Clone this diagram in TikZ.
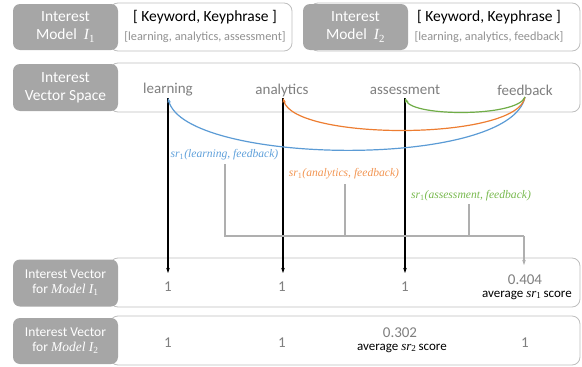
\documentclass[tikz,border=0pt]{standalone}
\usepackage{fontspec}
\setmainfont{Carlito}
\newfontfamily\camfont{Liberation Serif}
\newcommand{\mv}[1]{{\camfont\itshape #1}}
\newcommand{\ms}[1]{\textsubscript{\camfont #1}}
\usetikzlibrary{arrows.meta}
\definecolor{boxgray}{HTML}{A6A6A6}
\definecolor{txtgray}{HTML}{7F7F7F}
\definecolor{edgegray}{HTML}{BFBFBF}
\definecolor{cblue}{HTML}{5B9BD5}
\definecolor{corange}{HTML}{ED7D31}
\definecolor{cgreen}{HTML}{70AD47}
\definecolor{lblue}{HTML}{5FA0DA}
\definecolor{lorange}{HTML}{F29552}
\definecolor{lgreen}{HTML}{78B94E}
\begin{document}
\begin{tikzpicture}[x=1pt,y=-1pt,
  panel/.style={draw=edgegray, line width=0.8pt, fill=white, rounded corners=8pt, inner sep=0},
  tag/.style={fill=boxgray, rounded corners=7pt, inner sep=0, text=white, align=center},
  bigtag/.style={tag, font=\fontsize{15.5}{18}\selectfont},
  smalltag/.style={tag, font=\fontsize{13.5}{15}\selectfont},
  word/.style={text=txtgray, font=\fontsize{15}{16}\selectfont, inner sep=0},
  val/.style={text=txtgray, font=\fontsize{15}{16}\selectfont, inner sep=0},
  avg/.style={text=black, font=\fontsize{13}{14}\selectfont, inner sep=0},
  head/.style={text=black, font=\fontsize{15.5}{16}\selectfont, inner sep=0},
  sub/.style={text=txtgray!85, font=\fontsize{12.3}{13}\selectfont, inner sep=0},
  srlbl/.style={font=\fontsize{11.6}{12}\selectfont, inner sep=0},
  tip/.style={-{Stealth[length=5pt,width=3.5pt]}},
  vline/.style={tip, draw=black, line width=1.3pt},
  curve/.style={tip, line width=1.2pt},
  brk/.style={draw=boxgray!90, line width=1.2pt}
]
\useasboundingbox (0,0) rectangle (582,367);

% ---- row 1
\node[panel, minimum width=182, minimum height=48] (p1) at (201,27) {};
\node[bigtag, minimum width=105, minimum height=46] (t1) at (65.5,27) {Interest\\Model \ \mv{I}\ms{1}};
\node[head] (h1) at (205,17) {[ Keyword, Keyphrase ]};
\node[sub] (s1) at (205,37) {[learning, analytics, assessment]};

\node[panel, minimum width=270, minimum height=48] (p2) at (445,27) {};
\node[bigtag, minimum width=105, minimum height=46] (t2) at (355.5,27) {Interest\\Model \ \mv{I}\ms{2}};
\node[head] (h2) at (489,17) {[ Keyword, Keyphrase ]};
\node[sub] (s2) at (489,37) {[learning, analytics, feedback]};

% ---- row 2
\node[panel, minimum width=470, minimum height=49] (p3) at (345,87.5) {};
\node[bigtag, minimum width=105, minimum height=47] (t3) at (65.5,87.5) {Interest\\Vector Space};
\node[word] (wl) at (168,90) {learning};
\node[word] (wa) at (282,90) {analytics};
\node[word] (ws) at (405,90) {assessment};
\node[word] (wf) at (525,90) {feedback};
\coordinate (cl) at (168,98);
\coordinate (ca) at (283,98);
\coordinate (cs) at (405,98);
\coordinate (cf) at (525,97);

% ---- row 3
\node[panel, minimum width=470, minimum height=49] (p4) at (345,282.5) {};
\node[smalltag, minimum width=105, minimum height=47] (t4) at (65.5,283) {Interest Vector\\for \mv{Model I}\ms{1}};
\node[val] (v1) at (168,287) {1};
\node[val] (v2) at (282,287) {1};
\node[val] (v3) at (405,287) {1};
\node[val] (v4) at (525,280) {0.404};
\node[avg] (a4) at (527,295) {average \mv{sr}\ms{1}\,score};
\coordinate (e1) at (168,273);
\coordinate (e2) at (283,273);
\coordinate (e3) at (405,273);
\coordinate (e4) at (524,265);

% ---- row 4
\node[panel, minimum width=470, minimum height=49] (p5) at (345,340.5) {};
\node[smalltag, minimum width=105, minimum height=46] (t5) at (65.5,341) {Interest Vector\\for \mv{Model I}\ms{2}};
\node[val] (u1) at (168,343) {1};
\node[val] (u2) at (282,343) {1};
\node[val] (u3) at (400,333) {0.302};
\node[avg] (b3) at (402,348) {average \mv{sr}\ms{2}\,score};
\node[val] (u4) at (525,343) {1};

% ---- black vertical arrows
\draw[vline] (cl) -- (e1);
\draw[vline] (ca) -- (e2);
\draw[vline] (cs) -- (e3);

% ---- curves
\draw[curve, cblue] (cf) .. controls (510,170) and (185,165) .. (cl);
\draw[curve, corange] (cf) .. controls (518,141) and (294,141) .. (ca);
\draw[curve, cgreen] (cf) .. controls (518,117) and (413,117) .. (cs);

% ---- sr labels
\node[srlbl, text=lblue] (r1) at (224.5,155) {\mv{sr}\ms{1}\mv{(learning, feedback)}};
\node[srlbl, text=lorange] (r2) at (344,174) {\mv{sr}\ms{1}\mv{(analytics, feedback)}};
\node[srlbl, text=lgreen] (r3) at (471,196) {\mv{sr}\ms{1}\mv{(assessment, feedback)}};
\coordinate (k1) at (225,164);
\coordinate (k2) at (345,184);
\coordinate (k3) at (469,204);
\coordinate (j1) at (225,236);
\coordinate (j2) at (345,236);
\coordinate (j3) at (469,236);
\coordinate (j4) at (524,236);

\draw[brk] (k1) -- (j1) -- (j4);
\draw[brk] (k2) -- (j2);
\draw[brk] (k3) -- (j3);
\draw[brk, tip] (j4) -- (e4);
\end{tikzpicture}
\end{document}
